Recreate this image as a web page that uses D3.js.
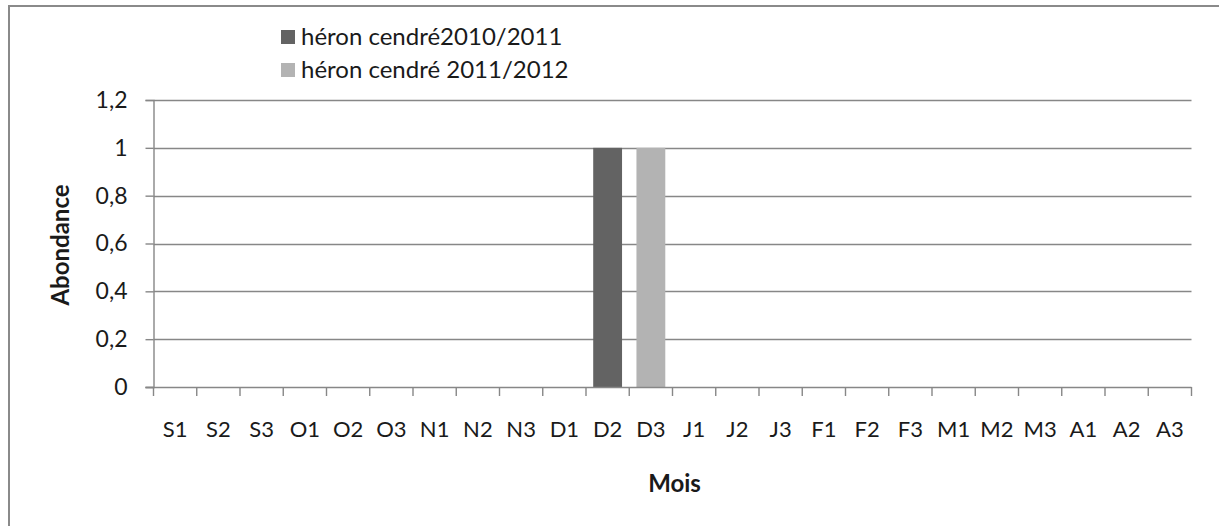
<!DOCTYPE html>
<html>
<head>
<meta charset="utf-8">
<script src="https://cdn.jsdelivr.net/npm/d3@7"></script>
<style>
  html, body { margin: 0; padding: 0; background: #fff; }
  svg { display: block; font-family: Lato, "Open Sans", sans-serif; }
</style>
</head>
<body>
<svg id="chart" width="1219" height="526"></svg>
<script>
// Décades de septembre à avril
const categories = ["S1","S2","S3","O1","O2","O3","N1","N2","N3","D1","D2","D3",
                    "J1","J2","J3","F1","F2","F3","M1","M2","M3","A1","A2","A3"];
const seriesNames = ["héron cendré2010/2011", "héron cendré 2011/2012"];
const heron2010 = [0,0,0,0,0,0,0,0,0,0,1,0,0,0,0,0,0,0,0,0,0,0,0,0];
const heron2011 = [0,0,0,0,0,0,0,0,0,0,0,1,0,0,0,0,0,0,0,0,0,0,0,0];
const yTickValues = [0, 0.2, 0.4, 0.6, 0.8, 1, 1.2];
const yTitle = "Abondance";
const xTitle = "Mois";

const series = [
  { name: seriesNames[0], values: heron2010, color: "#636363" },
  { name: seriesNames[1], values: heron2011, color: "#b3b3b3" }
];

const svg = d3.select("#chart");
const W = 1219, H = 526;
const plot = { left: 153.5, right: 1191.5, top: 100, bottom: 387 };
const gridColor = "#878787";
const textColor = "#1a1a1a";

// Outer chart frame
svg.append("rect")
  .attr("x", 9).attr("y", 6)
  .attr("width", W + 20).attr("height", H + 20)
  .attr("fill", "#fff")
  .attr("stroke", "#8a8a8a").attr("stroke-width", 2);

const x = d3.scaleBand().domain(categories).range([plot.left, plot.right]).padding(0);
const y = d3.scaleLinear().domain([0, 1.2]).range([plot.bottom, plot.top]);

const locale = d3.formatLocale({ decimal: ",", thousands: " ", grouping: [3], currency: ["", " €"] });
const fmt = locale.format("~g");

// Horizontal gridlines
svg.append("g").selectAll("line")
  .data(yTickValues.filter(v => v > 0))
  .join("line")
  .attr("x1", plot.left).attr("x2", plot.right)
  .attr("y1", d => Math.round(y(d)) + 0.5).attr("y2", d => Math.round(y(d)) + 0.5)
  .attr("stroke", gridColor).attr("stroke-width", 1.4);

// Y axis
const yAxis = d3.axisLeft(y).tickValues(yTickValues).tickFormat(fmt).tickSize(8).tickPadding(18);
const gy = svg.append("g").attr("transform", `translate(${plot.left},0)`).call(yAxis);
gy.select(".domain").attr("stroke", gridColor).attr("stroke-width", 1.4);
gy.selectAll(".tick line").attr("stroke", gridColor).attr("stroke-width", 1.4);
gy.selectAll(".tick text")
  .attr("fill", textColor).style("font-size", "23px").style("font-family", "Lato, sans-serif");

// Bars: each bar is centred in its category, two thirds of the band wide
const bw = x.bandwidth();
series.forEach(s => {
  svg.append("g").selectAll("rect")
    .data(categories.map((c, i) => ({ c, v: s.values[i] })).filter(d => d.v > 0))
    .join("rect")
    .attr("x", d => x(d.c) + bw / 6)
    .attr("width", bw * 2 / 3)
    .attr("y", d => y(d.v))
    .attr("height", d => y(0) - y(d.v))
    .attr("fill", s.color);
});

// X axis line and tick marks at category boundaries
const gx = svg.append("g");
gx.append("line")
  .attr("x1", plot.left - 8).attr("x2", plot.right)
  .attr("y1", plot.bottom + 0.5).attr("y2", plot.bottom + 0.5)
  .attr("stroke", gridColor).attr("stroke-width", 1.4);
const boundaries = categories.map(c => x(c)).concat([x(categories[categories.length - 1]) + bw]);
gx.selectAll("line.tk")
  .data(boundaries)
  .join("line").attr("class", "tk")
  .attr("x1", d => d).attr("x2", d => d)
  .attr("y1", plot.bottom).attr("y2", plot.bottom + 9)
  .attr("stroke", gridColor).attr("stroke-width", 1.4);
gx.selectAll("text")
  .data(categories)
  .join("text")
  .attr("x", d => x(d) + bw / 2)
  .attr("y", 437)
  .attr("text-anchor", "middle")
  .attr("fill", textColor)
  .style("font-size", "22px")
  .text(d => d);

// Axis titles
svg.append("text")
  .attr("transform", `translate(69,245) rotate(-90)`)
  .attr("text-anchor", "middle")
  .attr("fill", textColor)
  .style("font-size", "24px").style("font-weight", "bold")
  .text(yTitle);
svg.append("text")
  .attr("x", (plot.left + plot.right) / 2 + 2).attr("y", 492)
  .attr("text-anchor", "middle")
  .attr("fill", textColor)
  .style("font-size", "24px").style("font-weight", "bold")
  .text(xTitle);

// Legend
const legend = svg.append("g").selectAll("g")
  .data(series)
  .join("g")
  .attr("transform", (d, i) => `translate(281,${37 + i * 33})`);
legend.append("rect")
  .attr("x", 0).attr("y", -7).attr("width", 14).attr("height", 14)
  .attr("fill", d => d.color);
legend.append("text")
  .attr("x", 20).attr("y", 8)
  .attr("fill", textColor)
  .style("font-size", "24px")
  .text(d => d.name);
</script>
</body>
</html>
